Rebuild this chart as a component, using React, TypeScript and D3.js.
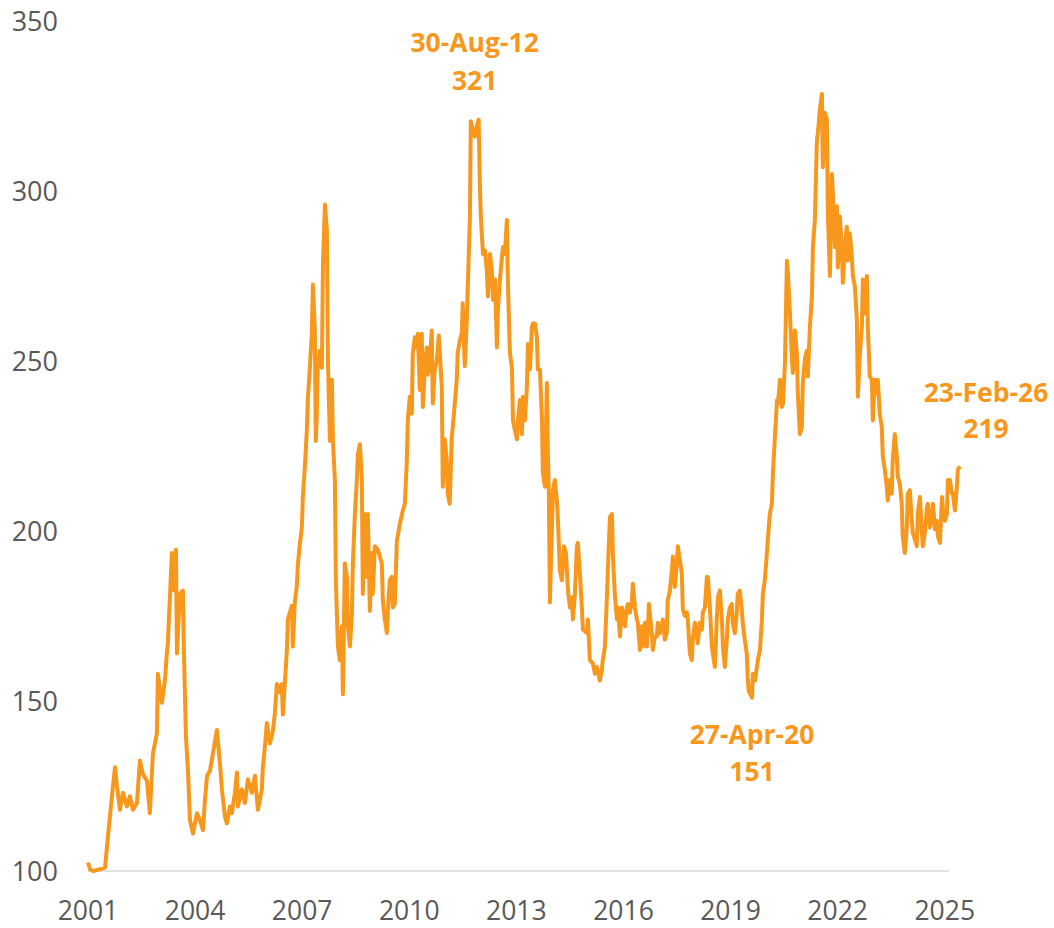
import React, { useEffect, useRef } from 'react'
import { select, scaleLinear, scaleTime, line, timeParse, timeFormat } from 'd3'

type Point = [string, number]

// index level (start = 100)
const series2001to2004: Point[] = [
  ['2001-09-20', 102.5], ['2001-10-10', 100.5], ['2001-11-10', 100], ['2002-01-21', 100.5],
  ['2002-03-13', 101], ['2002-04-12', 110], ['2002-05-23', 122], ['2002-06-23', 130.5],
  ['2002-07-13', 125], ['2002-08-13', 118], ['2002-09-12', 123], ['2002-10-23', 119],
  ['2002-11-23', 122], ['2002-12-24', 118], ['2003-02-03', 120], ['2003-03-05', 132.5],
  ['2003-04-05', 128.5], ['2003-05-16', 126.5], ['2003-06-15', 117], ['2003-07-16', 134.5],
  ['2003-08-26', 140.5], ['2003-09-05', 158], ['2003-10-16', 149.5], ['2003-11-16', 156],
  ['2003-12-06', 164], ['2003-12-16', 167], ['2004-01-06', 180.5], ['2004-01-26', 193.5],
  ['2004-02-16', 182.5], ['2004-03-08', 194.5], ['2004-03-18', 164], ['2004-04-17', 181.5],
  ['2004-05-18', 182.5], ['2004-05-28', 165], ['2004-06-18', 139.5], ['2004-07-09', 129.5],
  ['2004-07-29', 115], ['2004-08-29', 111], ['2004-10-09', 117], ['2004-11-08', 115],
  ['2004-12-09', 112],
]

const series2005to2007: Point[] = [
  ['2004-12-30', 121], ['2005-01-20', 128], ['2005-02-19', 129.5], ['2005-03-21', 134.5],
  ['2005-05-01', 141.5], ['2005-06-01', 131.5], ['2005-06-21', 124], ['2005-07-22', 116],
  ['2005-08-11', 114], ['2005-09-11', 119], ['2005-10-01', 117], ['2005-11-01', 123],
  ['2005-11-22', 129], ['2005-12-02', 119], ['2006-01-12', 124], ['2006-02-11', 120],
  ['2006-03-14', 127], ['2006-04-24', 123], ['2006-05-25', 128], ['2006-06-24', 118],
  ['2006-08-04', 124], ['2006-08-14', 130.5], ['2006-09-04', 136.5], ['2006-09-24', 143.5],
  ['2006-10-25', 137.5], ['2006-11-24', 141], ['2006-12-15', 146.5], ['2007-01-05', 155],
  ['2007-02-04', 152.5], ['2007-02-24', 155], ['2007-03-07', 146], ['2007-04-17', 165],
  ['2007-04-27', 174], ['2007-06-07', 178], ['2007-06-17', 166], ['2007-07-07', 179],
  ['2007-07-28', 184], ['2007-08-07', 190],
]

const series2007to2010: Point[] = [
  ['2007-08-27', 196], ['2007-09-17', 201], ['2007-09-27', 210], ['2007-10-18', 219],
  ['2007-11-07', 229.5], ['2007-11-17', 238.5], ['2007-12-08', 248], ['2007-12-28', 258],
  ['2008-01-08', 272.5], ['2008-01-28', 259], ['2008-02-07', 226.5], ['2008-02-17', 234.5],
  ['2008-02-27', 248], ['2008-03-20', 253], ['2008-04-09', 248], ['2008-04-20', 278.5],
  ['2008-05-10', 296], ['2008-05-30', 288.5], ['2008-06-10', 250], ['2008-06-30', 226.5],
  ['2008-07-20', 244.5], ['2008-07-31', 226.5], ['2008-08-20', 215], ['2008-08-30', 185.5],
  ['2008-09-20', 166], ['2008-10-10', 162], ['2008-10-31', 172], ['2008-11-10', 152],
  ['2008-11-30', 190.5], ['2008-12-21', 186.5], ['2009-01-01', 172], ['2009-01-21', 166],
  ['2009-02-10', 175.5], ['2009-02-20', 190.5], ['2009-03-13', 205], ['2009-04-02', 215],
  ['2009-04-12', 222.5], ['2009-05-03', 225.5], ['2009-05-23', 215], ['2009-06-02', 181.5],
  ['2009-06-23', 205], ['2009-07-13', 186.5], ['2009-07-23', 205], ['2009-08-13', 176.5],
  ['2009-09-02', 193.5], ['2009-09-12', 181.5], ['2009-10-03', 195.5], ['2009-11-03', 194.5],
  ['2009-12-13', 190.5], ['2009-12-24', 179.5], ['2010-01-13', 174], ['2010-02-03', 170],
  ['2010-02-13', 176.5], ['2010-03-05', 185.5], ['2010-03-26', 186.5], ['2010-04-05', 177.5],
  ['2010-04-25', 178.5], ['2010-05-16', 197], ['2010-06-15', 202], ['2010-07-16', 206],
  ['2010-08-06', 208],
]

const series2010to2014: Point[] = [
  ['2010-08-26', 220.5], ['2010-09-05', 232.5], ['2010-09-26', 239.5], ['2010-10-16', 234.5],
  ['2010-10-26', 252], ['2010-11-16', 257], ['2010-12-06', 254], ['2010-12-16', 258],
  ['2011-01-06', 241.5], ['2011-01-26', 258], ['2011-02-06', 236.5], ['2011-02-26', 248],
  ['2011-03-18', 254], ['2011-03-29', 246], ['2011-04-18', 250], ['2011-05-08', 259],
  ['2011-05-19', 237.5], ['2011-06-08', 247.5], ['2011-06-29', 250], ['2011-07-19', 257.5],
  ['2011-08-19', 242.5], ['2011-08-29', 213], ['2011-09-18', 227], ['2011-10-09', 221],
  ['2011-10-19', 211], ['2011-11-08', 208], ['2011-11-29', 227.5], ['2011-12-09', 230.5],
  ['2011-12-30', 237.5], ['2012-01-19', 244.5], ['2012-01-29', 252.5], ['2012-02-19', 256],
  ['2012-03-10', 258], ['2012-03-20', 267], ['2012-04-10', 248.5], ['2012-05-01', 262],
  ['2012-05-11', 272], ['2012-06-01', 291.5], ['2012-06-11', 320.5], ['2012-07-01', 318],
  ['2012-07-22', 316], ['2012-08-11', 319], ['2012-08-30', 321], ['2012-09-13', 300],
  ['2012-09-23', 291.5], ['2012-10-03', 286.5], ['2012-10-13', 281.5], ['2012-11-03', 282.5],
  ['2012-11-23', 276], ['2012-12-03', 269], ['2012-12-24', 281.5], ['2013-01-13', 276],
  ['2013-01-24', 268], ['2013-02-13', 274], ['2013-03-05', 254], ['2013-03-15', 265],
  ['2013-04-05', 274], ['2013-04-25', 280.5], ['2013-05-06', 283.5], ['2013-05-26', 281.5],
  ['2013-06-15', 291.5], ['2013-06-26', 272], ['2013-07-16', 252.5], ['2013-08-06', 247.5],
  ['2013-08-16', 232.5], ['2013-09-06', 229.5], ['2013-09-26', 227], ['2013-10-06', 232.5],
  ['2013-10-26', 238.5], ['2013-11-16', 228.5], ['2013-11-26', 239.5], ['2013-12-16', 232.5],
  ['2014-01-06', 242.5], ['2014-01-16', 255], ['2014-02-06', 247.5], ['2014-02-26', 260],
  ['2014-03-08', 261], ['2014-03-29', 261], ['2014-04-18', 257], ['2014-04-28', 247.5],
  ['2014-05-19', 247.5], ['2014-06-08', 233.5], ['2014-06-18', 217], ['2014-07-09', 213],
  ['2014-07-29', 243.5], ['2014-08-08', 223], ['2014-08-18', 212], ['2014-08-29', 179],
]

const series2014to2020: Point[] = [
  ['2014-09-29', 212], ['2014-10-19', 215], ['2014-11-08', 209], ['2014-11-18', 204],
  ['2014-12-09', 188.5], ['2014-12-30', 185.5], ['2015-01-20', 195.5], ['2015-02-09', 193.5],
  ['2015-03-02', 182.5], ['2015-03-22', 177.5], ['2015-04-11', 180.5], ['2015-04-21', 174],
  ['2015-05-12', 181.5], ['2015-06-01', 195.5], ['2015-06-11', 196.5], ['2015-07-02', 187.5],
  ['2015-07-22', 177.5], ['2015-08-02', 171], ['2015-09-11', 170], ['2015-09-22', 174],
  ['2015-10-12', 162], ['2015-11-12', 161], ['2015-12-03', 158], ['2015-12-23', 160],
  ['2016-01-22', 156], ['2016-02-11', 159], ['2016-02-21', 162], ['2016-03-14', 166],
  ['2016-04-03', 180.5], ['2016-04-13', 188.5], ['2016-05-04', 204], ['2016-05-25', 205],
  ['2016-06-04', 192.5], ['2016-06-25', 180.5], ['2016-07-15', 174], ['2016-07-25', 177.5],
  ['2016-08-15', 169], ['2016-09-04', 177.5], ['2016-09-14', 176], ['2016-10-05', 172],
  ['2016-10-25', 177.5], ['2016-11-04', 178.5], ['2016-11-25', 176], ['2016-12-15', 179.5],
  ['2016-12-25', 184.5], ['2017-01-15', 177.5], ['2017-02-04', 174], ['2017-02-14', 173],
  ['2017-03-07', 165], ['2017-03-27', 172], ['2017-04-06', 166], ['2017-04-27', 173],
  ['2017-05-17', 166], ['2017-05-28', 171], ['2017-06-07', 178.5], ['2017-07-07', 170],
  ['2017-07-17', 165], ['2017-08-07', 169], ['2017-08-27', 169], ['2017-09-06', 173],
  ['2017-09-27', 170], ['2017-10-17', 172], ['2017-10-27', 174], ['2017-11-17', 168],
  ['2017-12-07', 170], ['2017-12-17', 179.5], ['2018-01-08', 182.5], ['2018-01-28', 188.5],
  ['2018-02-07', 192.5], ['2018-02-27', 183.5], ['2018-03-20', 190.5], ['2018-03-30', 195.5],
  ['2018-04-20', 191.5], ['2018-05-10', 187.5], ['2018-05-20', 177], ['2018-06-10', 175],
  ['2018-06-30', 176], ['2018-07-10', 174], ['2018-07-31', 164], ['2018-08-20', 162],
  ['2018-08-30', 168], ['2018-09-20', 173], ['2018-10-10', 169], ['2018-10-20', 167],
  ['2018-11-10', 173], ['2018-12-01', 171], ['2018-12-11', 176], ['2019-01-01', 177.5],
  ['2019-01-21', 186.5], ['2019-01-31', 186.5], ['2019-02-21', 177.5], ['2019-03-13', 166],
  ['2019-03-23', 164], ['2019-04-13', 160], ['2019-05-03', 174], ['2019-05-14', 180.5],
  ['2019-06-03', 182.5], ['2019-06-24', 174], ['2019-07-04', 166], ['2019-07-24', 160],
  ['2019-08-13', 168], ['2019-08-24', 174], ['2019-09-13', 177.5], ['2019-10-03', 178.5],
  ['2019-10-13', 173], ['2019-11-03', 170], ['2019-11-23', 176], ['2019-12-03', 181.5],
  ['2019-12-24', 182.5], ['2020-01-13', 177], ['2020-01-23', 173], ['2020-02-13', 168],
  ['2020-03-04', 164], ['2020-03-14', 157], ['2020-03-24', 153], ['2020-04-27', 151],
]

const series2020to2026: Point[] = [
  ['2020-05-06', 158], ['2020-05-27', 156], ['2020-06-16', 160], ['2020-06-26', 162],
  ['2020-07-17', 165], ['2020-08-06', 174], ['2020-08-16', 181.5], ['2020-09-05', 185.5],
  ['2020-09-26', 193.5], ['2020-10-06', 197.5], ['2020-10-26', 205], ['2020-11-16', 208],
  ['2020-11-27', 217], ['2020-12-17', 227.5], ['2021-01-08', 238.5], ['2021-01-18', 237.5],
  ['2021-02-07', 244.5], ['2021-02-27', 236.5], ['2021-03-10', 237.5], ['2021-03-30', 249.5],
  ['2021-04-19', 279.5], ['2021-04-29', 276], ['2021-05-20', 264], ['2021-06-09', 250.5],
  ['2021-06-19', 246.5], ['2021-07-10', 259], ['2021-07-30', 252], ['2021-08-09', 240.5],
  ['2021-08-30', 228.5], ['2021-09-19', 230.5], ['2021-09-29', 243.5], ['2021-10-20', 250.5],
  ['2021-11-09', 253], ['2021-11-19', 245.5], ['2021-12-10', 260], ['2021-12-31', 269],
  ['2022-01-10', 283.5], ['2022-01-30', 291.5], ['2022-02-20', 315], ['2022-03-02', 317],
  ['2022-03-22', 324], ['2022-04-12', 328.5], ['2022-04-22', 307], ['2022-05-13', 323],
  ['2022-06-02', 321], ['2022-06-12', 293.5], ['2022-07-03', 275], ['2022-07-23', 305],
  ['2022-08-02', 299.5], ['2022-08-23', 283.5], ['2022-09-12', 295.5], ['2022-09-22', 277.5],
  ['2022-10-13', 292.5], ['2022-11-02', 283.5], ['2022-11-12', 273], ['2022-12-03', 283.5],
  ['2022-12-23', 289.5], ['2023-01-03', 279.5], ['2023-01-23', 287.5], ['2023-02-13', 280.5],
  ['2023-02-23', 275], ['2023-03-15', 272], ['2023-04-05', 262], ['2023-04-15', 239.5],
  ['2023-05-05', 252], ['2023-05-26', 260], ['2023-06-05', 274], ['2023-06-25', 264],
  ['2023-07-16', 275], ['2023-07-26', 260], ['2023-08-15', 245.5], ['2023-09-05', 244.5],
  ['2023-09-15', 232.5], ['2023-10-05', 244.5], ['2023-10-26', 240.5], ['2023-11-05', 244.5],
  ['2023-11-25', 234.5], ['2023-12-16', 230.5], ['2023-12-26', 222], ['2024-01-16', 218],
  ['2024-02-05', 213], ['2024-02-15', 209], ['2024-03-07', 215], ['2024-03-27', 211],
  ['2024-04-06', 221], ['2024-04-27', 228.5], ['2024-05-17', 222], ['2024-05-27', 216],
  ['2024-06-17', 214], ['2024-07-07', 208], ['2024-07-17', 198.5], ['2024-08-07', 193.5],
  ['2024-08-28', 201], ['2024-09-07', 211], ['2024-09-28', 212], ['2024-10-18', 203],
  ['2024-10-28', 199.5], ['2024-11-18', 197.5], ['2024-12-08', 195.5], ['2024-12-18', 205],
  ['2025-01-09', 210], ['2025-01-29', 199.5], ['2025-02-08', 195.5], ['2025-03-01', 199.5],
  ['2025-03-22', 207], ['2025-04-01', 208], ['2025-04-22', 201], ['2025-05-12', 204],
  ['2025-05-22', 208], ['2025-06-12', 200.5], ['2025-07-02', 203], ['2025-07-12', 198.5],
  ['2025-08-02', 196.5], ['2025-08-22', 210], ['2025-09-01', 207], ['2025-09-22', 203],
  ['2025-10-12', 205], ['2025-10-22', 215], ['2025-11-12', 215], ['2025-12-02', 211],
  ['2025-12-12', 211], ['2026-01-02', 206], ['2026-01-22', 213], ['2026-02-01', 218],
  ['2026-02-23', 219],
]

const yTicks = [100, 150, 200, 250, 300, 350]
const xTickDates = [
  '2001-09-20', '2004-09-20', '2007-09-20', '2010-09-20', '2013-09-20',
  '2016-09-20', '2019-09-20', '2022-09-20', '2025-09-20',
]
const axisEndDate = '2025-11-01'

// labelled points: peak, trough, latest
const callouts = [
  { date: '2012-08-30', value: 321, dx: -4, dy1: -68, dy2: -30 },
  { date: '2020-04-27', value: 151, dx: 0, dy1: 46, dy2: 83 },
  { date: '2026-02-23', value: 219, dx: 26, dy1: -64, dy2: -28 },
]

const WIDTH = 1054
const HEIGHT = 928
const ORANGE = '#F7981D'
const GREY_TEXT = '#595959'

export default function App(): JSX.Element {
  const svgRef = useRef<SVGSVGElement | null>(null)

  useEffect(() => {
    const parse = timeParse('%Y-%m-%d')
    const fmt = timeFormat('%d-%b-%y')
    const data = [
      ...series2001to2004,
      ...series2005to2007,
      ...series2007to2010,
      ...series2010to2014,
      ...series2014to2020,
      ...series2020to2026,
    ].map(([d, v]) => ({ date: parse(d) as Date, value: v }))

    const x = scaleTime()
      .domain([data[0].date, data[data.length - 1].date])
      .range([88, 960])
    const y = scaleLinear().domain([100, 350]).range([871, 21])

    const svg = select(svgRef.current)
    svg.selectAll('*').remove()

    // baseline
    svg
      .append('line')
      .attr('x1', x(data[0].date))
      .attr('x2', x(parse(axisEndDate) as Date))
      .attr('y1', y(100))
      .attr('y2', y(100))
      .attr('stroke', '#d9d9d9')
      .attr('stroke-width', 1.5)

    // y labels
    svg
      .append('g')
      .selectAll('text')
      .data(yTicks)
      .join('text')
      .attr('x', 58)
      .attr('y', (d) => y(d))
      .attr('dy', '0.36em')
      .attr('text-anchor', 'end')
      .attr('font-family', 'Open Sans, sans-serif')
      .attr('font-size', 27)
      .attr('fill', GREY_TEXT)
      .text((d) => d)

    // x labels
    svg
      .append('g')
      .selectAll('text')
      .data(xTickDates.map((d) => parse(d) as Date))
      .join('text')
      .attr('x', (d) => x(d))
      .attr('y', 920)
      .attr('text-anchor', 'middle')
      .attr('font-family', 'Open Sans, sans-serif')
      .attr('font-size', 26.5)
      .attr('fill', GREY_TEXT)
      .text((d) => d.getFullYear())

    const lineFn = line<{ date: Date; value: number }>()
      .x((d) => x(d.date))
      .y((d) => y(d.value))

    svg
      .append('path')
      .datum(data)
      .attr('fill', 'none')
      .attr('stroke', ORANGE)
      .attr('stroke-width', 4)
      .attr('stroke-linejoin', 'round')
      .attr('d', lineFn)

    // callouts
    callouts.forEach((c) => {
      const dt = parse(c.date) as Date
      const cx = x(dt) + c.dx
      const cy = y(c.value)
      const g = svg
        .append('g')
        .attr('font-family', 'Open Sans, sans-serif')
        .attr('font-size', 26.5)
        .attr('font-weight', 'bold')
        .attr('fill', ORANGE)
        .attr('text-anchor', 'middle')
      g.append('text').attr('x', cx).attr('y', cy + c.dy1).text(fmt(dt))
      g.append('text').attr('x', cx).attr('y', cy + c.dy2).text(c.value)
    })
  }, [])

  return (
    <svg
      ref={svgRef}
      width={WIDTH}
      height={HEIGHT}
      style={{ position: 'absolute', left: 0, top: 0, background: '#fff', display: 'block' }}
      xmlns="http://www.w3.org/2000/svg"
    />
  )
}
